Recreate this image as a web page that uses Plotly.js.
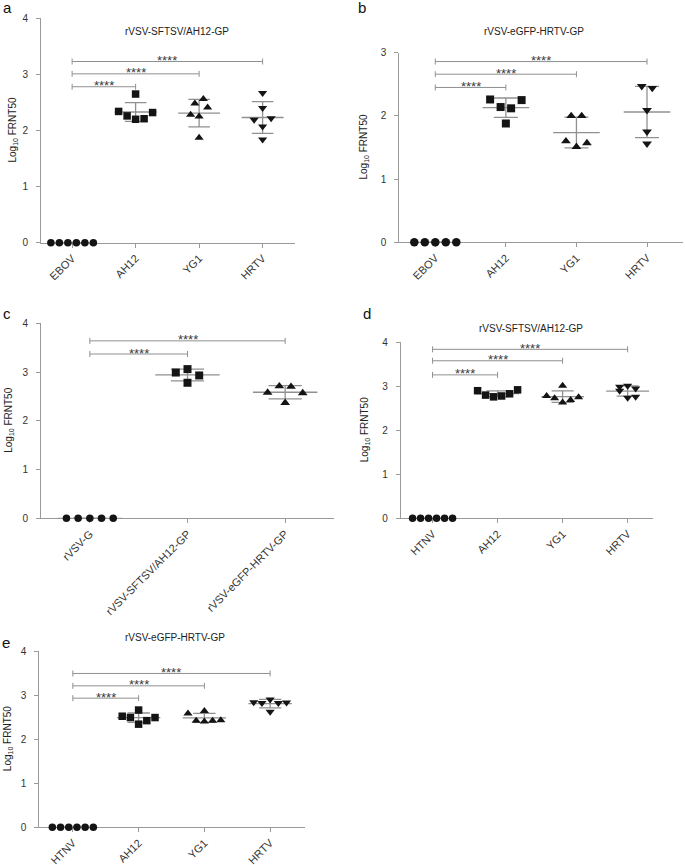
<!DOCTYPE html>
<html>
<head>
<meta charset="utf-8">
<script src="https://cdn.plot.ly/plotly-3.0.1.min.js"></script>
<style>html,body{margin:0;padding:0;background:#fff}</style>
</head>
<body>
<div id="fig" style="width:685px;height:865px"></div>
<script>
// log10 FRNT50 per serum (order within a group = left to right)
var groupsA = ['EBOV', 'AH12', 'YG1', 'HRTV'];
var ebovA = [0, 0, 0, 0, 0, 0];
var ah12A = [2.34, 2.26, 2.20, 2.21, 2.32, 2.65];
var yg1A = [2.28, 2.25, 2.41, 2.48, 2.56, 1.87];
var hrtvA = [2.67, 2.40, 2.19, 2.07, 2.22, 1.84];

var groupsB = ['EBOV', 'AH12', 'YG1', 'HRTV'];
var ebovB = [0, 0, 0, 0, 0];
var ah12B = [2.26, 2.14, 2.12, 2.25, 1.88];
var yg1B = [1.60, 1.51, 1.57, 2.00, 2.00];
var hrtvB = [2.47, 2.44, 2.09, 1.75, 1.56];

var groupsC = ['rVSV-G', 'rVSV-SFTSV/AH12-GP', 'rVSV-eGFP-HRTV-GP'];
var vsvC = [0, 0, 0, 0, 0];
var ah12C = [2.99, 3.06, 2.93, 2.78];
var hrtvC = [2.58, 2.71, 2.37, 2.70, 2.57];

var groupsD = ['HTNV', 'AH12', 'YG1', 'HRTV'];
var htnvD = [0, 0, 0, 0, 0, 0];
var ah12D = [2.90, 2.80, 2.76, 2.78, 2.83, 2.92];
var yg1D = [2.78, 2.73, 3.01, 2.63, 2.69, 2.75];
var hrtvD = [2.99, 2.90, 3.01, 2.74, 2.76, 2.95];

var groupsE = ['HTNV', 'AH12', 'YG1', 'HRTV'];
var htnvE = [0, 0, 0, 0, 0, 0];
var ah12E = [2.52, 2.49, 2.66, 2.34, 2.42, 2.49];
var yg1E = [2.58, 2.42, 2.40, 2.42, 2.43, 2.64];
var hrtvE = [2.84, 2.82, 2.90, 2.62, 2.82, 2.83];

var sigLabel = '****';
var yTitle = 'Log<sub>10</sub> FRNT50';

var W = 685, H = 865;
var FONT = 'Arial, "Liberation Sans", sans-serif';
var GREY = '#909090';

// box = [left, top, right, bottom] of the plot area in px
var panels = [
	{letter: 'a', box: [41, 18.3, 295, 242.7], yMax: 4, xr: [-0.49, 3.51],
	 cats: groupsA, series: [ebovA, ah12A, yg1A, hrtvA],
	 sym: ['circle', 'square', 'triangle-up', 'triangle-down'], size: [7.5, 7.5, 8, 8],
	 title: 'rVSV-SFTSV/AH12-GP', titleAt: [177, 32], letterAt: [1, 8], yTitleX: 12,
	 sig: [2.78, 3.01, 3.23], slotPx: 8.5, rowPx: 9.5},
	{letter: 'b', box: [399.3, 52.7, 683, 242.3], yMax: 3, xr: [-0.51, 3.51],
	 cats: groupsB, series: [ebovB, ah12B, yg1B, hrtvB],
	 sym: ['circle', 'square', 'triangle-up', 'triangle-down'], size: [8.5, 8, 8.5, 8.5],
	 title: 'rVSV-eGFP-HRTV-GP', titleAt: [534, 32], letterAt: [356, 8], yTitleX: 363,
	 sig: [2.45, 2.66, 2.86], slotPx: 10.5, rowPx: 9.5},
	{letter: 'c', box: [41, 323.3, 334, 518.3], yMax: 4, xr: [-0.5, 2.5],
	 cats: groupsC, series: [vsvC, ah12C, hrtvC],
	 sym: ['circle', 'square', 'triangle-up'], size: [7.5, 8, 8.5],
	 title: '', titleAt: [0, 0], letterAt: [1, 313], yTitleX: 9,
	 sig: [3.37, 3.64], slotPx: 11.7, rowPx: 7},
	{letter: 'd', box: [400.7, 342.3, 653, 518.3], yMax: 4, xr: [-0.49, 3.39],
	 cats: groupsD, series: [htnvD, ah12D, yg1D, hrtvD],
	 sym: ['circle', 'square', 'triangle-up', 'triangle-down'], size: [7.5, 7.5, 8, 8],
	 title: 'rVSV-SFTSV/AH12-GP', titleAt: [531, 328], letterAt: [361, 313], yTitleX: 365,
	 sig: [3.26, 3.58, 3.84], slotPx: 8, rowPx: 7.2},
	{letter: 'e', box: [39.3, 651, 305, 827.3], yMax: 4, xr: [-0.51, 3.53],
	 cats: groupsE, series: [htnvE, ah12E, yg1E, hrtvE],
	 sym: ['circle', 'square', 'triangle-up', 'triangle-down'], size: [7.5, 7.5, 8, 8],
	 title: 'rVSV-eGFP-HRTV-GP', titleAt: [175, 637], letterAt: [0, 642], yTitleX: 8,
	 sig: [2.93, 3.21, 3.49], slotPx: 8.2, rowPx: 8.5}
];

function mean(v) {
	return v.reduce(function(a, b) { return a + b; }, 0) / v.length;
}
function sd(v) {
	var m = mean(v);
	var ss = v.reduce(function(a, b) { return a + (b - m) * (b - m); }, 0);
	return Math.sqrt(ss / (v.length - 1));
}

// scatter-dot layout: points close in value share a row, spread left to right
function swarm(vals, pxPerUnit, rowPx) {
	var idx = vals.map(function(v, i) { return i; });
	idx.sort(function(a, b) { return vals[a] - vals[b]; });
	var off = [];
	var k = 0;
	while (k < idx.length) {
		var start = vals[idx[k]], row = [];
		while (k < idx.length && (vals[idx[k]] - start) * pxPerUnit < rowPx) {
			row.push(idx[k]);
			k++;
		}
		row.sort(function(a, b) { return a - b; });
		row.forEach(function(i, j) { off[i] = j - (row.length - 1) / 2; });
	}
	return off;
}

var axisStyle = {
	showline: true, linecolor: '#9a9a9a', linewidth: 1,
	ticks: 'outside', ticklen: 4, tickwidth: 1, tickcolor: '#9a9a9a',
	showgrid: false, zeroline: false, fixedrange: true, automargin: false,
	layer: 'below traces', tickfont: {family: FONT, size: 10, color: '#333'}
};

var data = [], shapes = [], annotations = [];
var layout = {
	width: W, height: H,
	margin: {l: 0, r: 0, t: 0, b: 0},
	paper_bgcolor: '#fff', plot_bgcolor: 'rgba(0,0,0,0)',
	showlegend: false,
	font: {family: FONT, color: '#222'}
};

panels.forEach(function(p, k) {
	var n = k === 0 ? '' : String(k + 1);
	var xa = 'x' + n, ya = 'y' + n;
	var pxPerX = (p.box[2] - p.box[0]) / (p.xr[1] - p.xr[0]);
	var pxPerY = (p.box[3] - p.box[1]) / p.yMax;

	layout['xaxis' + n] = Object.assign({}, axisStyle, {
		domain: [p.box[0] / W, p.box[2] / W], range: p.xr, anchor: ya,
		tickmode: 'array', tickvals: p.cats.map(function(c, i) { return i; }),
		ticktext: p.cats, tickangle: -45,
		tickfont: {family: FONT, size: 11, color: '#333'}
	});
	layout['yaxis' + n] = Object.assign({}, axisStyle, {
		domain: [1 - p.box[3] / H, 1 - p.box[1] / H], range: [0, p.yMax], anchor: xa,
		tickmode: 'linear', tick0: 0, dtick: 1, ticklabelstandoff: 6
	});

	// mean line and SD bars
	var ex = [], ey = [];
	p.series.forEach(function(vals, i) {
		var m = mean(vals), s = sd(vals);
		ex.push(i - 0.33, i + 0.33, null, i, i, null, i - 0.17, i + 0.17, null, i - 0.17, i + 0.17, null);
		ey.push(m, m, null, m - s, m + s, null, m + s, m + s, null, m - s, m - s, null);
	});
	data.push({x: ex, y: ey, xaxis: xa, yaxis: ya, mode: 'lines', type: 'scatter',
		line: {color: GREY, width: 1.3}, cliponaxis: false, hoverinfo: 'skip'});

	p.series.forEach(function(vals, i) {
		var off = swarm(vals, pxPerY, p.rowPx);
		data.push({
			x: vals.map(function(v, j) { return i + off[j] * p.slotPx / pxPerX; }),
			y: vals, xaxis: xa, yaxis: ya, mode: 'markers', type: 'scatter',
			name: p.cats[i], cliponaxis: false,
			marker: {symbol: p.sym[i], size: p.size[i], color: '#141414'}
		});
	});

	// significance brackets against the control group
	p.sig.forEach(function(h, j) {
		var x1 = j + 1;
		var ln = {color: GREY, width: 1};
		shapes.push({type: 'line', xref: xa, yref: ya, x0: 0, x1: x1, y0: h, y1: h, line: ln});
		[0, x1].forEach(function(xx) {
			shapes.push({type: 'line', xref: xa, yref: ya, x0: xx, x1: xx,
				ysizemode: 'pixel', yanchor: h, y0: -3, y1: 3, line: ln});
		});
		annotations.push({xref: xa, yref: ya, x: x1 / 2, y: h, text: sigLabel,
			showarrow: false, xanchor: 'center', yanchor: 'middle', yshift: 1,
			font: {family: FONT, size: 13, color: '#3a3a3a'}});
	});

	if (p.title) {
		annotations.push({xref: 'paper', yref: 'paper', x: p.titleAt[0] / W, y: 1 - p.titleAt[1] / H,
			text: p.title, showarrow: false, xanchor: 'center', yanchor: 'middle',
			font: {family: FONT, size: 10, color: '#222'}});
	}
	annotations.push({xref: 'paper', yref: 'paper', x: p.letterAt[0] / W, y: 1 - p.letterAt[1] / H,
		text: p.letter, showarrow: false, xanchor: 'left', yanchor: 'middle',
		font: {family: FONT, size: 15, color: '#111'}});
	annotations.push({xref: 'paper', yref: 'paper', x: p.yTitleX / W,
		y: 1 - (p.box[1] + p.box[3]) / 2 / H, text: yTitle, textangle: -90,
		showarrow: false, xanchor: 'center', yanchor: 'middle',
		font: {family: FONT, size: 10, color: '#222'}});
});

layout.shapes = shapes;
layout.annotations = annotations;

Plotly.newPlot('fig', data, layout, {displayModeBar: false, staticPlot: true});
</script>
</body>
</html>
